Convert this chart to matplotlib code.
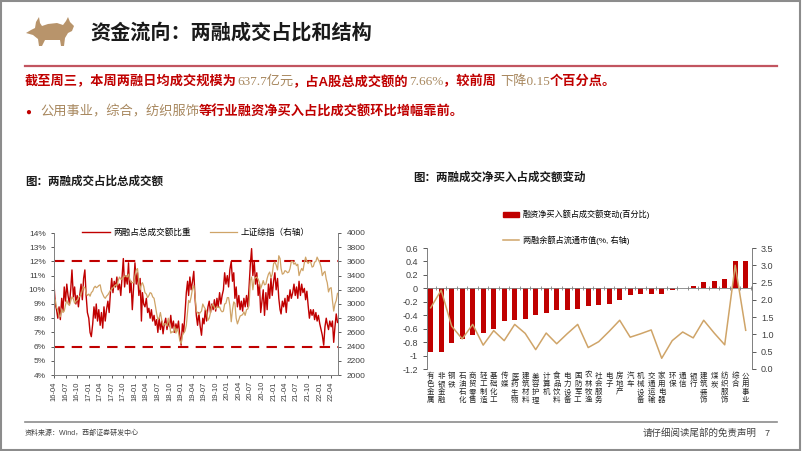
import numpy as np
import pandas as pd
import matplotlib
matplotlib.use('Agg')
import matplotlib.pyplot as plt
import matplotlib.dates as mdates
from matplotlib.patches import Polygon, Rectangle
from matplotlib.lines import Line2D
from matplotlib.ticker import FuncFormatter, MultipleLocator, FixedLocator

plt.rcParams['font.family'] = ['Liberation Sans', 'Noto Sans CJK SC', 'DejaVu Sans']
plt.rcParams['axes.unicode_minus'] = False

RED = '#C00000'
TAN = '#A8885F'
GOLD = '#CFA468'
GRAY = '#7F7F7F'

# ---- 左图：两融成交占比（%）与上证综指，每月取三个点 (1日/11日/21日) ----
months = pd.period_range('2016-04', '2022-05', freq='M')
dates = [m.to_timestamp() + pd.Timedelta(days=d) for m in months for d in (0, 10, 20)]

margin_ratio = [
    # 2016-04 .. 2016-12
    10.4, 9.0, 8.6, 8.0, 8.8, 7.9, 9.4, 8.5, 10.2, 9.2, 10.4, 9.6, 9.0, 10.0, 11.4,
    9.5, 10.2, 9.0, 9.6, 8.8, 9.6, 10.4, 9.3, 10.8, 11.4, 9.6, 8.4,
    # 2017
    8.0, 7.0, 6.7, 7.6, 8.8, 8.0, 9.0, 7.8, 8.6, 7.5, 8.4, 7.3, 8.8, 7.8, 8.6, 9.2, 8.4, 9.8,
    10.8, 9.8, 10.6, 10.2, 10.9, 10.0, 10.4, 9.6, 10.9, 12.2, 10.2, 11.0, 10.4, 11.9, 9.8, 10.6, 8.6, 10.2,
    # 2018
    11.9, 10.4, 11.2, 9.6, 10.8, 7.8, 9.8, 9.0, 8.8, 9.4, 8.4, 8.7, 8.0, 8.6, 7.8, 8.2, 7.5, 7.9,
    7.0, 8.0, 7.2, 7.8, 6.9, 7.6, 8.0, 7.2, 7.8, 7.4, 8.2, 7.3, 7.8, 7.0, 7.6, 7.2, 7.8, 6.8,
    # 2019
    6.1, 7.6, 7.0, 8.4, 9.8, 10.6, 9.6, 10.9, 10.0, 10.6, 11.3, 9.4, 8.2, 7.5, 8.4, 7.4, 6.8, 8.0,
    7.6, 8.6, 7.8, 8.8, 9.2, 8.4, 9.0, 8.6, 9.3, 8.5, 9.4, 8.8, 9.8, 9.0, 9.6, 10.0, 11.2, 10.4,
    # 2020
    11.0, 10.2, 11.4, 12.0, 10.6, 11.2, 9.4, 10.2, 8.8, 9.6, 8.6, 9.2, 8.5, 9.4, 8.8, 9.6, 8.8, 10.2,
    11.8, 12.9, 11.0, 12.0, 10.4, 11.2, 9.6, 10.4, 8.4, 9.2, 10.0, 8.2, 9.8, 8.6, 10.4, 9.4, 10.8, 9.6,
    # 2021
    10.6, 11.2, 10.0, 10.8, 9.4, 8.6, 8.3, 9.2, 8.8, 9.4, 8.4, 9.6, 9.2, 10.0, 9.4, 9.8, 10.4, 9.6,
    10.2, 9.4, 10.6, 9.6, 10.4, 9.8, 10.1, 9.3, 9.9, 8.9, 8.0, 8.6, 8.2, 8.6, 7.9, 8.4, 7.8, 8.2,
    # 2022-01 .. 2022-05
    7.6, 7.2, 6.8, 6.1, 7.4, 8.0, 7.6, 7.2, 7.8, 7.4, 7.8, 6.3, 7.4, 8.3, 7.7,
]

sse_index = [
    # 2016-04 .. 2016-12
    3010, 3060, 2950, 2920, 2830, 2820, 2930, 2880, 2900, 2990, 3050, 3000, 2980, 3040, 3100,
    3070, 3010, 3040, 3050, 3090, 3110, 3130, 3200, 3240, 3230, 3150, 3120,
    # 2017
    3140, 3110, 3160, 3180, 3230, 3250, 3230, 3240, 3260, 3270, 3180, 3140, 3100, 3080, 3110, 3130, 3160, 3190,
    3210, 3230, 3250, 3270, 3260, 3330, 3380, 3350, 3350, 3380, 3390, 3400, 3380, 3420, 3350, 3310, 3300, 3300,
    # 2018
    3400, 3480, 3500, 3300, 3200, 3280, 3300, 3250, 3160, 3140, 3090, 3120, 3160, 3150, 3100, 3080, 2980, 2870,
    2780, 2800, 2880, 2770, 2700, 2720, 2720, 2690, 2800, 2720, 2590, 2610, 2600, 2680, 2590, 2650, 2600, 2490,
    # 2019
    2440, 2560, 2590, 2620, 2700, 2900, 3050, 3020, 3100, 3220, 3260, 3120, 2900, 2880, 2850, 2880, 2900, 3000,
    2960, 2930, 2900, 2770, 2800, 2880, 2980, 3000, 2950, 2930, 2960, 2950, 2960, 2910, 2890, 2900, 3000, 3010,
    # 2020
    3090, 3090, 2980, 2750, 2920, 3030, 3010, 2800, 2720, 2780, 2830, 2840, 2850, 2890, 2840, 2920, 2930, 2980,
    3330, 3380, 3200, 3350, 3370, 3380, 3350, 3300, 3220, 3270, 3330, 3270, 3280, 3360, 3420, 3450, 3370, 3420,
    # 2021
    3570, 3590, 3550, 3480, 3680, 3640, 3500, 3420, 3430, 3470, 3460, 3440, 3450, 3500, 3600, 3600, 3560, 3580,
    3540, 3560, 3400, 3460, 3500, 3470, 3580, 3660, 3600, 3570, 3600, 3590, 3520, 3530, 3590, 3600, 3660, 3620,
    # 2022-01 .. 2022-05
    3580, 3520, 3400, 3440, 3460, 3350, 3300, 3170, 3220, 3230, 3050, 2900, 3000, 3050, 3150,
]

# ---- 右图：行业融资净买入占成交额变动 ----
industries = ['有色金属', '非银金融', '钢铁', '石油石化', '商贸零售', '轻工制造', '基础化工', '传媒',
              '医药生物', '建筑材料', '美容护理', '计算机', '食品饮料', '电力设备', '国防军工', '农林牧渔',
              '社会服务', '电子', '房地产', '汽车', '机械设备', '交通运输', '家用电器', '环保', '通信',
              '银行', '建筑装饰', '煤炭', '纺织服饰', '综合', '公用事业']
net_buy_change = [-0.95, -0.94, -0.81, -0.75, -0.70, -0.66, -0.61, -0.49, -0.47, -0.45, -0.39,
                  -0.37, -0.32, -0.32, -0.30, -0.27, -0.25, -0.24, -0.18, -0.10, -0.09, -0.08,
                  -0.08, -0.03, 0.00, 0.03, 0.10, 0.11, 0.14, 0.40, 0.40]
margin_to_float = [1.77, 2.28, 1.24, 0.87, 1.29, 0.69, 1.11, 0.82, 1.29, 1.03, 0.56, 1.04, 0.73,
                   1.02, 1.29, 0.62, 0.79, 1.09, 1.41, 0.92, 1.02, 1.13, 0.31, 0.82, 1.07, 0.90,
                   1.41, 1.04, 0.70, 3.00, 1.12]

W, H = 802, 451


def fx(x):
    return x / W


def fy(y):
    return 1 - y / H


fig = plt.figure(figsize=(W / 100, H / 100), dpi=100)
fig.patch.set_facecolor('white')

# 页面边框
fig.add_artist(Rectangle((0.001, 0.002), 0.997, 0.995, transform=fig.transFigure,
                         fill=False, edgecolor='#8C8C8C', lw=1.5))

# 牛形 logo
bull = [(26, 33), (31, 30), (35, 28), (36, 22), (39, 17), (40, 23), (42, 26), (48, 24), (57, 23),
        (63, 25), (66, 21), (68, 17), (70, 22), (74, 26), (72, 31), (68, 33), (65, 38), (64, 46),
        (61, 46), (60, 40), (52, 40), (45, 40), (42, 46), (39, 46), (38, 39), (33, 35)]
fig.add_artist(Polygon([(fx(a), fy(b)) for a, b in bull], closed=True, transform=fig.transFigure,
                       facecolor='#B8946B', edgecolor='none'))

fig.text(fx(90), fy(33), '资金流向：两融成交占比和结构', fontsize=14.5, fontweight='bold',
         color='#1A1A1A', va='center', ha='left')
fig.add_artist(Line2D([fx(25), fx(777)], [fy(66), fy(66)], transform=fig.transFigure,
                      color='#C25560', lw=1.6))

renderer = fig.canvas.get_renderer()
SERIF = ['Liberation Serif', 'Noto Sans CJK SC', 'DejaVu Sans']


def chain(x, y, parts, size):
    for s, c, w, fam in parts:
        kw = {'family': fam} if fam else {}
        t = fig.text(fx(x), fy(y), s, color=c, fontsize=size, fontweight=w,
                     va='center', ha='left', **kw)
        x += t.get_window_extent(renderer=renderer).width


chain(25, 82, [('截至周三，本周两融日均成交规模为', RED, 'bold', None),
               ('637.7亿元', TAN, 'normal', SERIF),
               ('，占A股总成交额的', RED, 'bold', None),
               ('7.66%', TAN, 'normal', SERIF),
               ('，较前周 ', RED, 'bold', None),
               ('下降0.15', TAN, 'normal', SERIF),
               ('个百分点。', RED, 'bold', None)], 9.5)
fig.text(fx(25), fy(112), '●', color=RED, fontsize=7, va='center', ha='left')
chain(40, 112, [('公用事业，综合，纺织服饰', TAN, 'normal', None),
                ('等行业融资净买入占比成交额环比增幅靠前。', RED, 'bold', None)], 9.5)

fig.text(fx(25), fy(182), '图：两融成交占比总成交额', fontsize=8.3, fontweight='bold',
         color='#1A1A1A', va='center', ha='left')
fig.text(fx(413), fy(178), '图：两融成交净买入占成交额变动', fontsize=8.3, fontweight='bold',
         color='#1A1A1A', va='center', ha='left')

TICK_KW = dict(labelsize=6, colors='#404040', length=2.5, width=0.6)

# ---------------- 左图 ----------------
ax1 = fig.add_axes([fx(54), fy(375), fx(338) - fx(54), fy(233) - fy(375)])
ax1r = ax1.twinx()
l1, = ax1.plot(dates, margin_ratio, color=RED, lw=1.0)
l2, = ax1r.plot(dates, sse_index, color=GOLD, lw=0.9)
for lvl in (12, 6):
    ax1.axhline(lvl, color=RED, lw=1.5, ls=(0, (5, 3.5)))
ax1.set_ylim(4, 14)
ax1.yaxis.set_major_locator(MultipleLocator(1))
ax1.yaxis.set_major_formatter(FuncFormatter(lambda v, p: '%d%%' % v))
ax1r.set_ylim(2000, 4000)
ax1r.yaxis.set_major_locator(MultipleLocator(200))
ax1.set_xlim(pd.Timestamp('2016-04-01'), pd.Timestamp('2022-05-25'))
ax1.xaxis.set_major_locator(mdates.MonthLocator(bymonth=[1, 4, 7, 10]))
ax1.xaxis.set_major_formatter(mdates.DateFormatter('%y-%m'))
for a in (ax1, ax1r):
    a.spines['top'].set_visible(False)
    for s in ('left', 'right', 'bottom'):
        a.spines[s].set_color(GRAY)
        a.spines[s].set_linewidth(0.6)
    a.tick_params(**TICK_KW)
ax1.tick_params(axis='x', labelrotation=90, labelsize=5.5, pad=2)
ax1.legend([l1, l2], ['两融占总成交额比重', '上证综指（右轴）'], loc='center',
           bbox_to_anchor=(0.5, 1.005), ncol=2, frameon=False, fontsize=6.2,
           handlelength=3.2, columnspacing=2.2, handletextpad=0.4)

# ---------------- 右图 ----------------
ax2 = fig.add_axes([fx(427), fy(369), fx(752) - fx(427), fy(248) - fy(369)])
ax2r = ax2.twinx()
xpos = np.arange(len(industries))
bars = ax2.bar(xpos, net_buy_change, width=0.45, color=RED)
line2, = ax2r.plot(xpos, margin_to_float, color=GOLD, lw=1.1)
ax2.set_xlim(-0.35, len(industries) - 0.4)
ax2.set_ylim(-1.2, 0.6)
ax2.yaxis.set_major_locator(MultipleLocator(0.2))
ax2.yaxis.set_major_formatter(FuncFormatter(lambda v, p: '%g' % round(v, 1)))
ax2r.set_ylim(0, 3.5)
ax2r.yaxis.set_major_locator(MultipleLocator(0.5))
ax2r.yaxis.set_major_formatter(FuncFormatter(lambda v, p: '%.1f' % v))
for a in (ax2, ax2r):
    a.spines['top'].set_visible(False)
    for s in ('left', 'right', 'bottom'):
        a.spines[s].set_color(GRAY)
        a.spines[s].set_linewidth(0.6)
    a.tick_params(labelsize=6.5, colors='#404040', length=3, width=0.6)
ax2r.spines['bottom'].set_visible(False)
ax2.spines['bottom'].set_position(('data', 0))
ax2.xaxis.set_major_locator(FixedLocator(xpos))
ax2.xaxis.set_minor_locator(FixedLocator(xpos + 0.5))
ax2.tick_params(axis='x', which='major', length=0, labelbottom=False)
ax2.tick_params(axis='x', which='minor', length=3, direction='inout', color=GRAY, width=0.6)
for i, name in enumerate(industries):
    ax2.text(i, -0.025, '\n'.join(name), transform=ax2.get_xaxis_transform(),
             ha='center', va='top', fontsize=5.4, linespacing=1.0, color='#262626',
             family=['Noto Sans CJK SC'])

bar_handle = Rectangle((0, 0), 1, 1, color=RED)
fig.legend([bar_handle, line2], ['融资净买入额占成交额变动(百分比)', '两融余额占流通市值(%, 右轴)'],
           loc='upper left', bbox_to_anchor=(fx(503), fy(210)), frameon=False, fontsize=5.9,
           labelspacing=1.9, handlelength=2.0, handleheight=0.6, handletextpad=0.4,
           borderpad=0, borderaxespad=0)

# ---------------- 页脚 ----------------
fig.add_artist(Line2D([fx(25), fx(777)], [fy(422), fy(422)], transform=fig.transFigure,
                      color='#8C8C8C', lw=1.2))
fig.text(fx(25), fy(433), '资料来源：Wind，西部证券研发中心', fontsize=5.0, color='#404040',
         va='center', ha='left')
fig.text(fx(757), fy(433), '请仔细阅读尾部的免责声明', fontsize=6.8, color='#404040',
         va='center', ha='right')
fig.text(fx(767), fy(433), '7', fontsize=6.5, color='#404040', va='center', ha='center')

fig.savefig('out.png', dpi=100)
